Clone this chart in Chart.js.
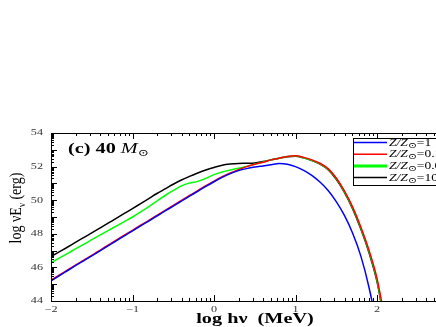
<!DOCTYPE html>
<html>
<head>
<meta charset="utf-8">
<script src="https://cdn.jsdelivr.net/npm/chart.js@4.4.0/dist/chart.umd.min.js"></script>
<style>
  html, body { margin: 0; padding: 0; background: #fff; overflow: hidden; width: 436px; height: 327px; }
  #wrap { position: absolute; left: 0; top: 0; width: 480px; height: 327px; }
</style>
</head>
<body>
<div id="wrap"><canvas id="sed" width="480" height="327"></canvas></div>
<script>
// log h nu (MeV), shared by all four curves
const logE = [-2.0,-1.9,-1.8,-1.7,-1.6,-1.5,-1.4,-1.3,-1.2,-1.1,-1.0,-0.9,-0.8,-0.7,-0.6,-0.5,-0.4,-0.3,-0.2,-0.1,
  0.0,0.1,0.2,0.3,0.4,0.5,0.6,0.7,0.8,0.9,1.0,1.1,1.2,1.3,1.4,1.5,1.6,1.7,1.8,1.9,2.0,2.1];

// log nu E_nu (erg)
const z1 = [45.20,45.50,45.80,46.10,46.39,46.68,46.98,47.28,47.58,47.88,48.17,48.47,48.76,49.06,49.36,49.65,49.95,50.24,50.53,50.82,
  51.10,51.36,51.58,51.76,51.88,51.97,52.04,52.11,52.18,52.14,52.00,51.78,51.48,51.08,50.58,49.92,49.10,48.05,46.70,44.85,42.40,39.00];
const z01 = [45.24,45.54,45.84,46.14,46.43,46.72,47.02,47.32,47.62,47.92,48.21,48.51,48.80,49.10,49.40,49.69,49.99,50.28,50.57,50.86,
  51.14,51.40,51.62,51.82,52.00,52.14,52.26,52.40,52.50,52.60,52.64,52.55,52.40,52.20,51.88,51.32,50.55,49.60,48.42,47.05,45.35,42.80];
const z001 = [46.28,46.55,46.82,47.10,47.37,47.65,47.92,48.19,48.46,48.73,49.00,49.30,49.62,49.95,50.28,50.58,50.85,51.02,51.12,51.30,
  51.52,51.68,51.80,51.90,52.00,52.14,52.28,52.40,52.50,52.60,52.63,52.53,52.38,52.17,51.85,51.29,50.51,49.55,48.36,46.98,45.25,42.60];
const z10 = [46.64,46.92,47.20,47.49,47.77,48.05,48.34,48.63,48.92,49.21,49.50,49.80,50.10,50.40,50.67,50.95,51.20,51.42,51.62,51.80,
  51.95,52.08,52.15,52.19,52.20,52.22,52.30,52.40,52.50,52.59,52.62,52.52,52.36,52.15,51.82,51.25,50.47,49.50,48.30,46.90,45.15,42.50];

const seriesNames = ["1", "0.1", "0.01", "10"];
const seriesColors = ["#0000ff", "#ff0000", "#00ff00", "#000000"];
const seriesValues = [z1, z01, z001, z10];

const SERIF = '"Liberation Serif", "DejaVu Serif", serif';
const STRETCH = 1.35; // the original figure's lettering is wide

// draws runs of [text, font, dy] one after another, stretched sideways
function runs(ctx, x, y, parts, align) {
  ctx.save();
  ctx.translate(x, y);
  ctx.scale(STRETCH, 1);
  let total = 0;
  parts.forEach(p => { ctx.font = p[1]; total += ctx.measureText(p[0]).width; });
  let cx = align === "center" ? -total / 2 : align === "right" ? -total : 0;
  ctx.textAlign = "left";
  parts.forEach(p => {
    ctx.font = p[1];
    ctx.fillText(p[0], cx, p[2] || 0);
    cx += ctx.measureText(p[0]).width;
  });
  ctx.restore();
}

const decor = {
  id: "decor",
  afterDraw(chart) {
    const { ctx, chartArea: a, scales: { x, y } } = chart;
    ctx.save();
    ctx.strokeStyle = "#000";
    ctx.lineWidth = 1;
    ctx.strokeRect(a.left + 0.5, a.top + 0.5, a.right - a.left, a.bottom - a.top);

    // major + log-spaced minor ticks, pointing inward
    ctx.beginPath();
    for (let k = -2; k < 3; k++) {
      for (let m = 1; m <= 9; m++) {
        const px = Math.round(x.getPixelForValue(k + Math.log10(m))) + 0.5;
        const len = m === 1 ? 6 : 3;
        ctx.moveTo(px, a.bottom); ctx.lineTo(px, a.bottom - len);
        ctx.moveTo(px, a.top); ctx.lineTo(px, a.top + len);
      }
    }
    for (let k = 44; k < 54; k++) {
      for (let m = 1; m <= 9; m++) {
        const py = Math.round(y.getPixelForValue(k + Math.log10(m))) + 0.5;
        const len = m === 1 ? 6 : 3;
        ctx.moveTo(a.left, py); ctx.lineTo(a.left + len, py);
      }
    }
    ctx.stroke();

    // tick labels
    ctx.textBaseline = "middle";
    ctx.fillStyle = "#333";
    x.ticks.forEach(t => {
      runs(ctx, x.getPixelForValue(t.value), a.bottom + 9,
        [[String(t.value).replace("-", "\u2212"), "9px " + SERIF]], "center");
    });
    y.ticks.forEach(t => {
      runs(ctx, a.left - 8, y.getPixelForValue(t.value), [[String(t.value), "9px " + SERIF]], "right");
    });

    ctx.fillStyle = "#000";
    ctx.textBaseline = "alphabetic";
    // panel label
    runs(ctx, 68, 153, [
      ["(c) 40 ", "bold 15px " + SERIF],
      ["M", "italic 15px " + SERIF],
      ["\u2299", "10px " + SERIF, 3]
    ], "left");

    // x title
    runs(ctx, 255, 323, [["log h\u03bd  (MeV)", "bold 15px " + SERIF]], "center");

    // y title, rotated and widened across
    ctx.save();
    ctx.translate(21, 208);
    ctx.rotate(-Math.PI / 2);
    ctx.scale(1, 1.25);
    const parts = [["log \u03bdE", "14px " + SERIF, 0], ["\u03bd", "9px " + SERIF, 3], [" (erg)", "14px " + SERIF, 0]];
    let tot = 0;
    parts.forEach(p => { ctx.font = p[1]; tot += ctx.measureText(p[0]).width; });
    let sx = -tot / 2;
    ctx.textAlign = "left";
    parts.forEach(p => { ctx.font = p[1]; ctx.fillText(p[0], sx, p[2]); sx += ctx.measureText(p[0]).width; });
    ctx.restore();

    // legend box
    const lx = 353, ly = 138, lw = 110, lh = 47;
    ctx.fillStyle = "#fff";
    ctx.fillRect(lx, ly, lw, lh);
    ctx.strokeStyle = "#000";
    ctx.lineWidth = 1;
    ctx.strokeRect(lx + 0.5, ly + 0.5, lw, lh);
    seriesNames.forEach((name, i) => {
      const yy = ly + 4.5 + i * 11.7;
      ctx.strokeStyle = seriesColors[i];
      ctx.lineWidth = i === 2 ? 3 : 1.5;
      ctx.beginPath();
      ctx.moveTo(lx + 1, yy); ctx.lineTo(lx + 34, yy);
      ctx.stroke();
      ctx.fillStyle = "#000";
      ctx.textBaseline = "middle";
      runs(ctx, lx + 36, yy + 0.5, [
        ["Z/Z", "italic 10px " + SERIF],
        ["\u2299", "8px " + SERIF, 2.5],
        ["=" + name, "10px " + SERIF]
      ], "left");
    });
    ctx.restore();
  }
};

new Chart(document.getElementById("sed").getContext("2d"), {
  type: "line",
  data: {
    datasets: seriesValues.map((vals, i) => ({
      label: "Z/Z\u2299=" + seriesNames[i],
      data: vals.map((v, j) => ({ x: logE[j], y: v })),
      borderColor: seriesColors[i],
      borderWidth: 1.5,
      pointRadius: 0,
      fill: false,
      cubicInterpolationMode: "monotone"
    }))
  },
  options: {
    responsive: false,
    animation: false,
    layout: { padding: { top: 133, right: 21.5, left: 0, bottom: 0 } },
    plugins: { legend: { display: false }, tooltip: { enabled: false } },
    scales: {
      x: {
        type: "linear",
        min: -2, max: 3,
        grid: { display: false, drawTicks: false },
        border: { display: false },
        ticks: { stepSize: 1, display: false },
        afterFit: s => { s.height = 26; }
      },
      y: {
        min: 44, max: 54,
        grid: { display: false, drawTicks: false },
        border: { display: false },
        ticks: { stepSize: 2, display: false },
        afterFit: s => { s.width = 51; }
      }
    }
  },
  plugins: [decor]
});
</script>
</body>
</html>
